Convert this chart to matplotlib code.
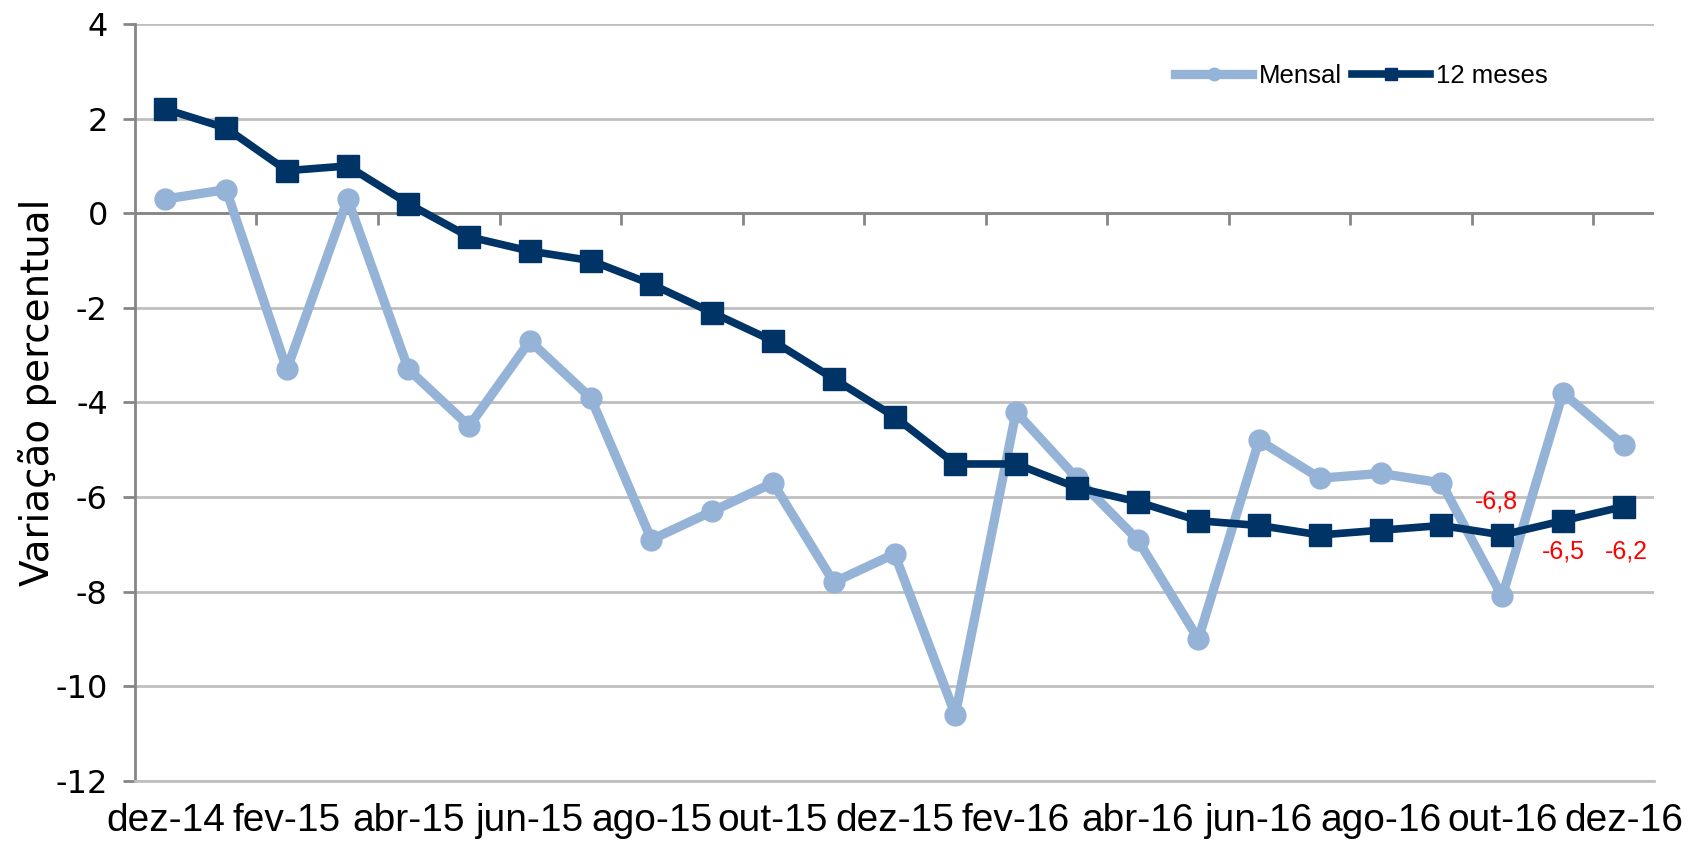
import numpy as np
import matplotlib.pyplot as plt

plt.rcParams['font.family'] = ['Liberation Sans', 'DejaVu Sans']

# Monthly categories dez-14 .. dez-16
months = ['dez-14', 'jan-15', 'fev-15', 'mar-15', 'abr-15', 'mai-15', 'jun-15',
          'jul-15', 'ago-15', 'set-15', 'out-15', 'nov-15', 'dez-15', 'jan-16',
          'fev-16', 'mar-16', 'abr-16', 'mai-16', 'jun-16', 'jul-16', 'ago-16',
          'set-16', 'out-16', 'nov-16', 'dez-16']

mensal = [0.3, 0.5, -3.3, 0.3, -3.3, -4.5, -2.7, -3.9, -6.9, -6.3, -5.7, -7.8,
          -7.2, -10.6, -4.2, -5.6, -6.9, -9.0, -4.8, -5.6, -5.5, -5.7, -8.1,
          -3.8, -4.9]

doze_meses = [2.2, 1.8, 0.9, 1.0, 0.2, -0.5, -0.8, -1.0, -1.5, -2.1, -2.7, -3.5,
              -4.3, -5.3, -5.3, -5.8, -6.1, -6.5, -6.6, -6.8, -6.7, -6.6, -6.8,
              -6.5, -6.2]

# data labels shown on the last three points of "12 meses"
label_idx = [22, 23, 24]
label_txt = ['-6,8', '-6,5', '-6,2']

y_ticks = np.arange(-12, 5, 2)

fig = plt.figure(figsize=(17.04, 8.51), dpi=100)
ax = fig.add_axes([0.0792, 0.0823, 0.8915, 0.8895])

x = np.arange(len(months))

# grid
for yv in y_ticks:
    ax.axhline(yv, color='#bfbfbf', linewidth=2, zorder=0)
ax.axhline(0, color='#868686', linewidth=2, zorder=1)
# category ticks hanging from the zero line
ax.vlines(np.arange(1.5, len(months) - 1, 2), -0.25, 0, color='#868686',
          linewidth=2, zorder=1)

ax.plot(x, mensal, color='#95b3d7', linewidth=6.7, marker='o', markersize=15,
        label='Mensal', zorder=3, solid_joinstyle='round')
ax.plot(x, doze_meses, color='#003366', linewidth=5.5, marker='s', markersize=15.5,
        label='12 meses', zorder=4)

offsets = [(-0.1, 0.7), (0.0, -0.66), (0.05, -0.96)]
for i, t, (dx, dy) in zip(label_idx, label_txt, offsets):
    ax.text(x[i] + dx, doze_meses[i] + dy, t, color='red', fontsize=18,
            ha='center', va='center', zorder=5)

ax.set_xlim(-0.5, len(months) - 0.5)
ax.set_ylim(-12, 4)
ax.set_yticks(y_ticks)
ax.set_yticklabels([str(v) for v in y_ticks], fontsize=23,
                   family=['DejaVu Sans'])
ax.set_xticks(x[::2])
ax.set_xticklabels(months[::2], fontsize=28)
ax.tick_params(axis='x', length=0, pad=16)
ax.tick_params(axis='y', length=8.5, width=2, color='#868686', pad=11)
ax.set_ylabel('Variação percentual', fontsize=28, family=['DejaVu Sans'])
ax.yaxis.set_label_coords(-0.051, 0.513)

for s in ['top', 'right']:
    ax.spines[s].set_visible(False)
ax.spines['left'].set_color('#868686')
ax.spines['left'].set_linewidth(2)
ax.spines['bottom'].set_color('#bfbfbf')
ax.spines['bottom'].set_linewidth(2)

leg = ax.legend(loc='center left', bbox_to_anchor=(1175 / 1704, 1 - 76 / 851),
                bbox_transform=fig.transFigure, ncol=2, frameon=False,
                fontsize=18.5, handlelength=3.0, markerscale=0.6,
                columnspacing=0.4, handletextpad=0.27, borderpad=0,
                borderaxespad=0)

fig.savefig('out.png', dpi=100)
